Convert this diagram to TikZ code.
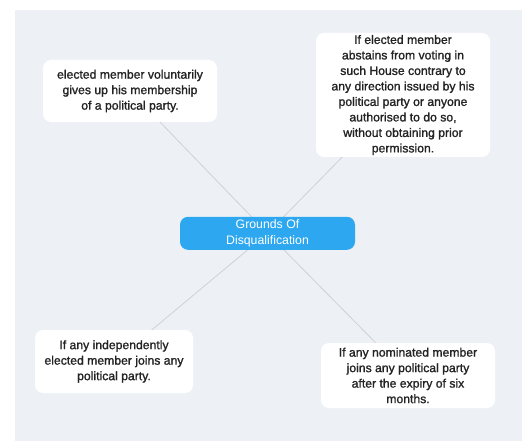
\documentclass[tikz,border=0pt]{standalone}
\usepackage{fontspec}
\setmainfont{Liberation Sans}
\newfontfamily\medfont[FakeBold=1.3]{Liberation Sans}
\usetikzlibrary{backgrounds}
\definecolor{bgc}{RGB}{237,241,245}
\definecolor{linec}{RGB}{205,210,216}
\definecolor{bluec}{RGB}{45,168,240}
\definecolor{txtc}{RGB}{35,35,35}
\tikzset{
  card/.style={fill=white, rounded corners=8pt, align=center, inner sep=0pt,
    text=txtc, font=\medfont\fontsize{12.2}{15.5}\selectfont},
  hub/.style={fill=bluec, rounded corners=8pt, align=center, inner sep=0pt,
    text=white, font=\fontsize{12.3}{15.5}\selectfont},
  link/.style={draw=linec, line width=0.8pt}
}
\begin{document}
\begin{tikzpicture}[x=1pt,y=-1pt]
\useasboundingbox (0,0) rectangle (522,441);
\node[hub, minimum width=175pt, minimum height=33pt] (c) at (267.5,233.3) {Grounds Of\\Disqualification};
\node[card, minimum width=174pt, minimum height=62pt] (tl) at (130,91) {elected member voluntarily\\gives up his membership\\of a political party.};
\node[card, minimum width=174pt, minimum height=124pt] (tr) at (403,95) {If elected member\\abstains from voting in\\such House contrary to\\any direction issued by his\\political party or anyone\\authorised to do so,\\without obtaining prior\\permission.};
\node[card, minimum width=158pt, minimum height=63pt] (bl) at (114,361.5) {If any independently\\elected member joins any\\political party.};
\node[card, minimum width=174pt, minimum height=65pt] (br) at (408,375.5) {If any nominated member\\joins any political party\\after the expiry of six\\months.};
\begin{scope}[on background layer]
\fill[bgc] (15,10) rectangle (522,441);
\draw[link] (c.center) -- (tl.center);
\draw[link] (c.center) -- (tr.center);
\draw[link] (c.center) -- (bl.center);
\draw[link] (c.center) -- (br.center);
\end{scope}
\end{tikzpicture}
\end{document}
